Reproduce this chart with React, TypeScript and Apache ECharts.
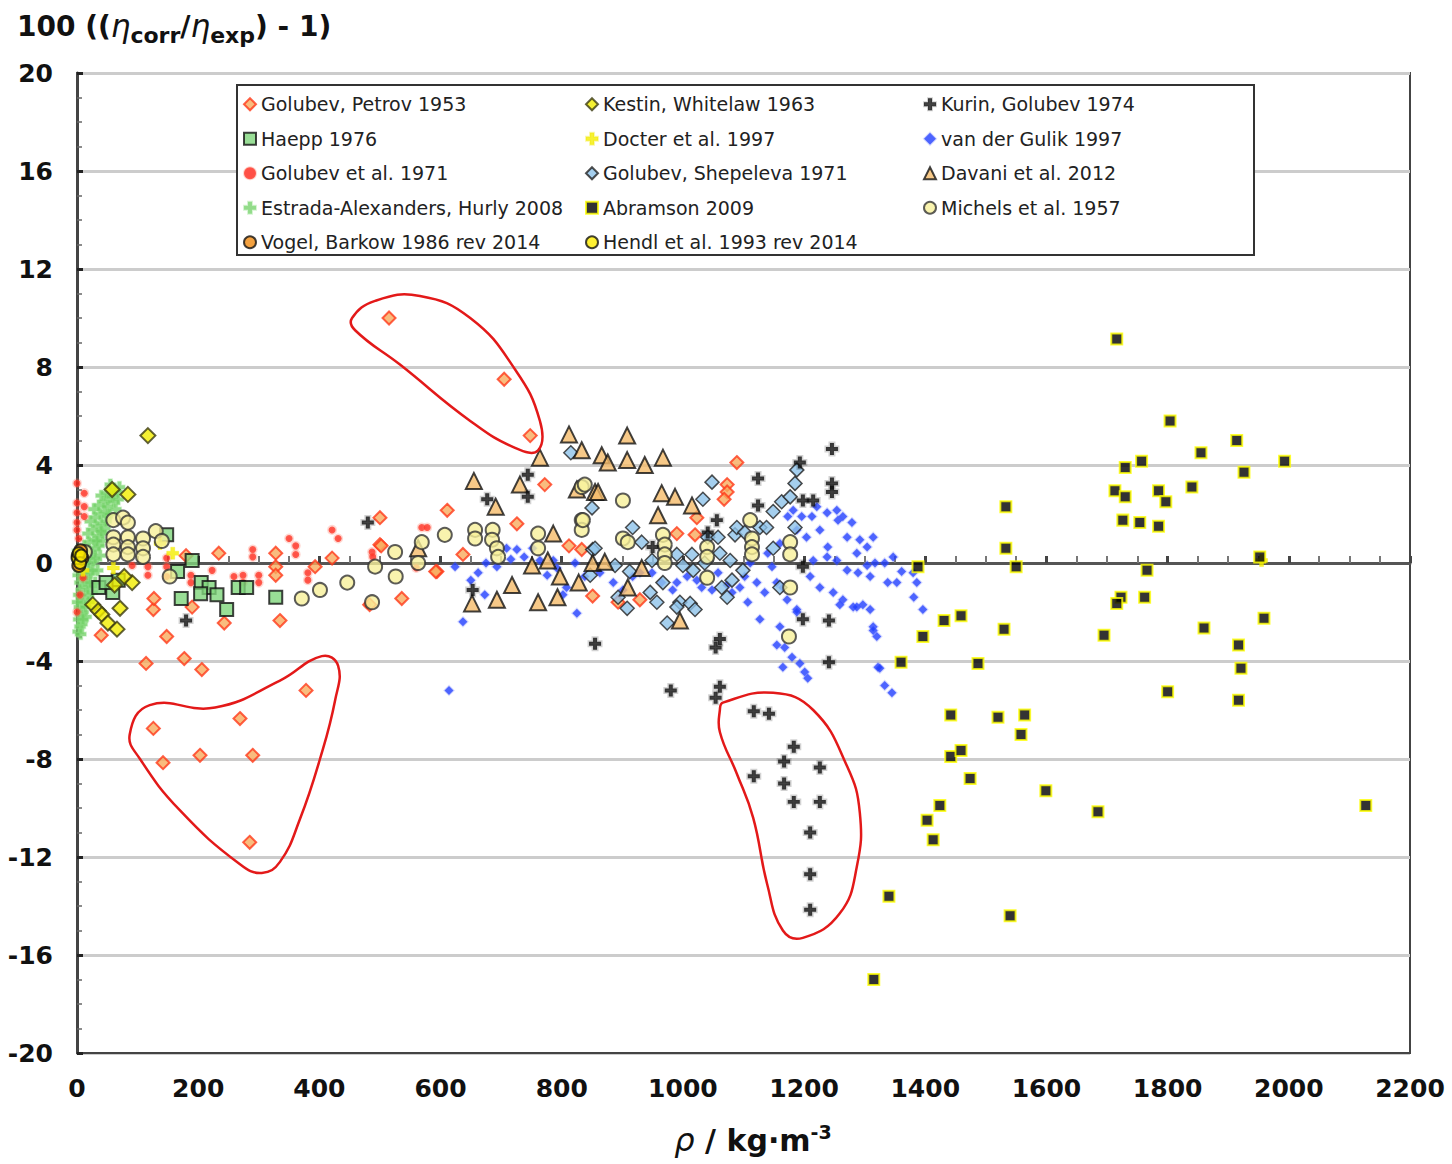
import React, { useEffect, useRef } from "react";
import * as echarts from "echarts";

const FONT = "'DejaVu Sans', 'Liberation Sans', sans-serif";
const PLUS = "path://M3,0H6V3H9V6H6V9H3V6H0V3H3Z";

// ---- data: [density kg/m3, 100((eta_corr/eta_exp)-1)] ----
const GOLUBEV_PETROV_1953 = [
  [515, 10.0], [705, 7.5], [748, 5.2], [126, -6.75], [142, -8.15], [203, -7.85], [269, -6.35], [290, -7.85],
  [378, -5.2], [285, -11.4], [114, -4.1], [177, -3.9], [206, -4.35], [148, -3.0], [40, -2.95], [243, -2.45],
  [335, -2.35], [190, -1.8], [126, -1.9], [127, -1.45], [536, -1.45], [483, -1.7], [594, -0.35], [234, 0.4],
  [328, 0.4], [328, -0.15], [328, -0.5], [421, 0.2], [500, 0.75], [393, -0.15], [180, 0.3], [772, 3.2],
  [611, 2.15], [500, 1.85], [726, 1.6], [502, 0.7], [592, -0.35], [637, 0.35], [812, 0.7], [833, 0.55],
  [1089, 4.1], [1073, 3.2], [1073, 2.9], [1068, 2.6], [1023, 1.85], [1020, 1.15], [990, 1.2], [929, -1.5],
  [893, -1.6], [851, -1.35],
];
const HAEPP_1976 = [
  [148, 1.15], [190, 0.1], [68, -0.7], [36, -1.0], [59, -1.2], [48, -0.8], [166, -0.35], [172, -1.45],
  [205, -0.8], [218, -1.0], [231, -1.3], [204, -1.25], [247, -1.9], [266, -1.0], [280, -1.0], [328, -1.4],
];
const GOLUBEV_1971 = [
  [0, 3.25], [12, 2.85], [0, 2.45], [12, 2.3], [0, 2.05], [12, 1.9], [0, 1.65], [0, 1.35], [3, 1.0],
  [91, -0.1], [117, -0.15], [117, -0.5], [148, 0.2], [148, -0.15], [148, -0.55], [188, -0.5], [188, -0.8],
  [223, -0.3], [259, -0.55], [274, -0.5], [274, -0.8], [300, -0.5], [300, -0.8], [290, 0.55], [290, 0.25],
  [350, 1.0], [361, 0.7], [361, 0.35], [381, -0.4], [381, -0.7], [431, 1.0], [421, 1.35], [569, 1.45],
  [578, 1.45], [487, 0.45], [488, 0.25], [480, -1.7], [560, -0.2], [10, -0.6], [5, -1.3], [0, -2.0],
];
const ESTRADA_HURLY_2008 = [
  [2, -2.8], [5, -2.6], [8, -2.5], [3, -2.3], [6, -2.1], [10, -2.0], [4, -1.8], [8, -1.6], [12, -1.5],
  [3, -1.3], [7, -1.1], [14, -1.0], [18, -0.9], [5, -0.8], [10, -0.6], [16, -0.5], [22, -0.4], [4, -0.3],
  [12, -0.1], [20, 0.0], [27, 0.1], [8, 0.2], [16, 0.35], [24, 0.45], [30, 0.6], [12, 0.7], [20, 0.85],
  [28, 0.95], [35, 1.1], [18, 1.2], [26, 1.35], [33, 1.5], [40, 1.6], [22, 1.7], [30, 1.85], [38, 2.0],
  [45, 2.1], [28, 2.2], [36, 2.35], [44, 2.5], [52, 2.6], [40, 2.75], [48, 2.85], [56, 2.95], [62, 3.0],
  [50, 2.3], [58, 2.7], [66, 2.9], [15, -2.2], [20, -1.6], [25, -1.2], [30, -0.8], [34, -0.3], [38, 0.3],
  [42, 0.9], [46, 1.4], [50, 1.9], [2, -0.5], [1, 0.5], [1, -1.6], [55, 3.2], [60, 2.5], [64, 2.2],
  [68, 2.6], [70, 3.1], [48, 1.7], [54, 2.0], [42, 1.2], [36, 0.7], [30, 0.2], [26, -0.3], [22, -0.8],
  [18, -1.3], [14, -1.8], [10, -2.3], [6, -2.9], [33, 0.9], [40, 1.3],
];
const VOGEL_BARKOW_1986 = [[2, 0.3], [4, 0.1], [6, 0.5], [3, -0.1], [8, 0.2]];
const KESTIN_WHITELAW_1963 = [
  [117, 5.2], [58, 3.0], [84, 2.8], [26, -1.7], [35, -1.95], [41, -2.1], [51, -2.45], [66, -2.7],
  [71, -1.85], [91, -0.8], [78, -0.55], [62, -0.9],
];
const DOCTER_1997 = [[137, 0.8], [158, 0.4], [10, -0.3], [1955, 0.1], [60, -0.2]];
const GOLUBEV_SHEPELEVA_1971 = [
  [815, 4.5], [850, 2.25], [851, 0.55], [847, -0.5], [855, 0.6], [917, 1.45], [932, 0.85], [888, -0.1],
  [912, -0.35], [893, -1.4], [908, -1.85], [946, -1.2], [957, -1.6], [967, -0.8], [949, 0.1], [990, 0.35],
  [1000, -0.1], [1015, 0.35], [1017, -0.3], [1036, 0.0], [1041, 1.05], [1058, 1.05], [1061, 0.4], [1078, 0.1],
  [1086, 1.15], [1089, 1.45], [1102, 1.25], [1099, -0.3], [1064, -1.0], [1081, -0.7], [1073, -1.4], [995, -1.6],
  [990, -1.8], [974, -2.45], [1012, -1.65], [1020, -1.9], [1048, 3.3], [1033, 2.6], [1127, 1.45], [1138, 1.45],
  [1149, 0.6], [1160, -1.0], [1185, 1.45], [1149, 2.1], [1163, 2.5], [1177, 2.7], [1185, 3.25], [1188, 3.8],
];
const ABRAMSON_2009 = [
  [1716, 9.14], [1804, 5.8], [1914, 5.0], [1855, 4.5], [1757, 4.15], [1993, 4.15], [1730, 3.9], [1926, 3.7],
  [1840, 3.1], [1713, 2.95], [1785, 2.95], [1730, 2.7], [1797, 2.5], [1726, 1.75], [1754, 1.65], [1785, 1.5],
  [1952, 0.25], [1766, -0.3], [1723, -1.4], [1716, -1.65], [1762, -1.4], [1695, -2.95], [1860, -2.65],
  [1959, -2.25], [1917, -3.35], [1921, -4.3], [1800, -5.25], [1917, -5.6], [2127, -9.9], [1685, -10.15],
  [1599, -9.3], [1540, -14.4], [1340, -13.6], [1315, -17.0], [1533, 2.3], [1533, 0.6], [1550, -0.15],
  [1388, -0.15], [1396, -3.0], [1431, -2.35], [1459, -2.15], [1530, -2.7], [1360, -4.05], [1487, -4.1],
  [1442, -6.2], [1520, -6.3], [1564, -6.2], [1558, -7.0], [1442, -7.9], [1459, -7.65], [1474, -8.8],
  [1424, -9.9], [1403, -10.5], [1413, -11.3],
];
const HENDL_1993 = [[1, 0.2], [3, 0.4], [5, 0.0], [7, 0.3]];
const KURIN_GOLUBEV_1974 = [
  [180, -2.35], [480, 1.65], [677, 2.6], [744, 3.6], [744, 2.7], [653, -1.1], [855, -3.3], [950, 0.65],
  [980, -5.2], [1041, 1.25], [1056, 1.75], [1061, -3.1], [1054, -3.45], [1061, -5.05], [1054, -5.5],
  [1117, -6.05], [1142, -6.15], [1124, 3.45], [1124, 2.35], [1193, 4.1], [1198, 2.55], [1215, 2.55],
  [1246, 4.65], [1246, 3.25], [1246, 2.9], [1198, -0.15], [1198, -2.3], [1241, -2.35], [1241, -4.05],
  [1183, -7.5], [1167, -8.1], [1226, -8.35], [1117, -8.7], [1167, -9.0], [1183, -9.75], [1226, -9.75],
  [1210, -11.0], [1210, -12.7], [1210, -14.15],
];
const VAN_DER_GULIK_1997 = [
  [614, -5.2], [624, -0.15], [637, -2.4], [650, -0.7], [662, -0.4], [673, -1.3], [675, 0.0], [693, -0.15],
  [709, 0.6], [716, 0.15], [726, 0.55], [738, 0.25], [752, 0.6], [764, 0.1], [776, -0.5], [786, 0.1],
  [792, -0.2], [808, -1.0], [822, 0.0], [825, -2.05], [838, -0.55], [802, -1.3], [863, -0.4], [885, -0.8],
  [901, -1.1], [917, -0.55], [929, -0.4], [949, -0.4], [965, -0.8], [983, -1.1], [990, -0.8], [1007, -0.55],
  [1023, -0.7], [1031, -1.0], [1048, -1.1], [1058, -0.4], [1073, -0.9], [1081, -1.2], [1094, -1.0],
  [1102, -0.55], [1107, -1.6], [1111, 0.0], [1122, -0.8], [1127, -2.3], [1135, -1.2], [1140, 0.4],
  [1147, -0.15], [1155, -0.8], [1160, 0.8], [1173, 1.9], [1182, 2.15], [1188, 1.35], [1196, 1.9],
  [1204, 1.05], [1213, 1.9], [1221, 2.3], [1226, 1.35], [1238, 2.05], [1239, 0.65], [1254, 2.15],
  [1256, 1.75], [1264, 1.9], [1271, 1.05], [1279, 1.65], [1287, 0.4], [1292, 0.95], [1304, 0.65],
  [1314, 1.05], [1317, 0.0], [1309, -0.55], [1289, -0.4], [1271, -0.3], [1254, 0.1], [1238, 0.25],
  [1215, 0.1], [1210, -0.55], [1226, -1.0], [1248, -1.2], [1264, -1.5], [1281, -1.8], [1297, -1.7],
  [1309, -1.9], [1314, -2.6], [1320, -3.0], [1165, -1.0], [1172, -1.5], [1188, -1.9], [1160, -2.6],
  [1168, -3.45], [1188, -2.0], [1180, -3.85], [1193, -4.1], [1201, -4.45], [1206, -4.7], [1165, -4.25],
  [1259, -1.7], [1287, -1.8], [1314, -2.75], [1322, -4.25], [1347, 0.25], [1361, -0.35], [1380, -0.4],
  [1386, -0.8], [1353, -0.8], [1338, -0.8], [1333, 0.0], [1304, -0.1], [1381, -1.4], [1396, -1.9],
  [1325, -4.3], [1333, -5.0], [1345, -5.3], [1155, -3.35],
];
const DAVANI_2012 = [
  [812, 5.25], [833, 4.6], [764, 4.3], [655, 3.35], [731, 3.2], [691, 2.3], [825, 3.0], [855, 2.9],
  [786, 1.2], [563, 0.6], [751, -0.1], [777, 0.1], [797, -0.55], [718, -0.9], [652, -1.65], [693, -1.5],
  [761, -1.6], [793, -1.4], [828, -0.8], [851, 0.0], [908, 5.2], [866, 4.4], [876, 4.1], [908, 4.2],
  [937, 4.0], [967, 4.3], [860, 2.9], [965, 2.85], [987, 2.7], [1015, 2.35], [959, 1.95], [871, 0.05],
  [932, -0.2], [909, -1.0], [995, -2.35],
];
const MICHELS_1957 = [
  [60, 1.75], [76, 1.85], [84, 1.65], [60, 1.05], [60, 0.75], [60, 0.35], [84, 1.05], [84, 0.65], [84, 0.35],
  [109, 1.0], [109, 0.6], [109, 0.25], [153, -0.55], [13, 0.45], [371, -1.45], [401, -1.1], [446, -0.8],
  [487, -1.6], [492, -0.15], [526, -0.55], [525, 0.45], [563, 0.0], [569, 0.85], [607, 1.15], [657, 1.35],
  [657, 1.0], [686, 1.35], [685, 0.95], [693, 0.6], [695, 0.25], [761, 1.2], [761, 0.6], [833, 3.1],
  [833, 1.75], [833, 1.35], [838, 3.2], [901, 2.55], [835, 1.75], [901, 1.0], [909, 0.85], [967, 1.15],
  [970, 0.75], [970, 0.35], [970, 0.0], [1040, 0.65], [1040, 0.25], [1040, -0.6], [1111, 1.75], [1114, 1.0],
  [1114, 0.65], [1114, 0.35], [1177, 0.85], [1177, 0.35], [1177, -1.0], [1175, -3.0], [130, 1.3], [140, 0.9],
];

// red hand-drawn annotation loops (data coordinates)
const LOOP_TOP = [[454, 10.0], [492, 10.7], [566, 10.9], [649, 10.0], [723, 7.9], [764, 5.8], [761, 4.6], [723, 4.7], [649, 5.8], [533, 8.1], [459, 9.5]];
const LOOP_LEFT = [[87, -7.0], [120, -5.8], [228, -5.9], [335, -4.8], [404, -3.8], [431, -4.2], [426, -5.6], [401, -8.0], [368, -10.45], [335, -12.2], [305, -12.65], [269, -12.3], [170, -10.1], [104, -8.0]];
const LOOP_RIGHT = [[1066, -5.7], [1149, -5.3], [1215, -6.0], [1271, -8.3], [1292, -10.2], [1287, -12.4], [1259, -14.3], [1198, -15.3], [1165, -15.0], [1139, -13.1], [1116, -10.4], [1089, -8.6], [1061, -6.9], [1061, -6.0]];
const LOOPS = [LOOP_TOP, LOOP_LEFT, LOOP_RIGHT];

const LEGEND_COL1 = ["Golubev, Petrov 1953", "Haepp 1976", "Golubev et al. 1971", "Estrada-Alexanders, Hurly 2008", "Vogel, Barkow 1986 rev 2014"];
const LEGEND_COL2 = ["Kestin, Whitelaw 1963", "Docter et al. 1997", "Golubev, Shepeleva 1971", "Abramson 2009", "Hendl et al. 1993 rev 2014"];
const LEGEND_COL3 = ["Kurin, Golubev 1974", "van der Gulik 1997", "Davani et al. 2012", "Michels et al. 1957"];

function sc(name: string, data: number[][], symbol: string, size: number, itemStyle: any, extra: any = {}) {
  return { type: "scatter", name, data, symbol, symbolSize: size, itemStyle, silent: true, xAxisIndex: 0, yAxisIndex: 0, ...extra };
}

function buildOption() {
  const legendBase = {
    orient: "vertical",
    top: 93,
    itemWidth: 12,
    itemHeight: 12,
    itemGap: 12,
    padding: 0,
    selectedMode: false,
    textStyle: { fontFamily: FONT, fontSize: 19, color: "#222", lineHeight: 22.5 },
  };
  return {
    animation: false,
    backgroundColor: "#ffffff",
    grid: { left: 77, top: 73, width: 1333, height: 980, show: true, borderColor: "#444", borderWidth: 2, backgroundColor: "transparent" },
    xAxis: [
      {
        type: "value", min: 0, max: 2200, interval: 200, position: "bottom",
        axisLine: { onZero: false, lineStyle: { color: "#444", width: 2 } },
        axisTick: { show: false }, splitLine: { show: false },
        axisLabel: { fontFamily: FONT, fontWeight: "bold", fontSize: 25, color: "#111", margin: 23, formatter: (v: number) => String(v) },
      },
      {
        type: "value", min: 0, max: 2200, interval: 200, position: "top",
        axisLine: { onZero: true, lineStyle: { color: "#555", width: 3 } },
        axisTick: { show: true, inside: false, length: 7, lineStyle: { color: "#444", width: 3 } },
        minorTick: { show: true, splitNumber: 4, length: 7, lineStyle: { color: "#777", width: 2 } },
        axisLabel: { show: false }, splitLine: { show: false },
      },
    ],
    yAxis: {
      type: "value", min: -20, max: 20, interval: 4,
      axisLine: { onZero: false, lineStyle: { color: "#444", width: 3 } },
      axisTick: { inside: true, length: 6, lineStyle: { color: "#222", width: 3 } },
      minorTick: { show: true, splitNumber: 4, length: 5, lineStyle: { color: "#666", width: 1.5 } },
      splitLine: { lineStyle: { color: "#cccccc", width: 3 } },
      axisLabel: { fontFamily: FONT, fontWeight: "bold", fontSize: 25, color: "#111", margin: 24 },
    },
    legend: [
      { ...legendBase, left: 243, data: LEGEND_COL1 },
      { ...legendBase, left: 585, data: LEGEND_COL2 },
      { ...legendBase, left: 923, data: LEGEND_COL3 },
    ],
    graphic: [
      { type: "rect", z: 3, shape: { x: 237, y: 85, width: 1017, height: 170 }, style: { fill: "#ffffff", stroke: "#333", lineWidth: 2 } },
      {
        type: "text", z: 5, left: 17, top: 6,
        style: {
          text: "{n|100 ((}{i|η}{s|corr}{n|/}{i|η}{s|exp}{n|) - 1)}",
          rich: {
            n: { fontFamily: FONT, fontWeight: "bold", fontSize: 28, fill: "#111", lineHeight: 40 },
            i: { fontFamily: FONT, fontStyle: "italic", fontSize: 31, fill: "#111", lineHeight: 40 },
            s: { fontFamily: FONT, fontWeight: "bold", fontSize: 22, fill: "#111", lineHeight: 22, padding: [18, 0, 0, 0] },
          },
        },
      },
      {
        type: "text", z: 5, x: 753, y: 1140,
        style: {
          text: "{i|ρ}{n| / kg·m}{u|-3}",
          align: "center", verticalAlign: "middle",
          rich: {
            i: { fontFamily: FONT, fontStyle: "italic", fontSize: 32, fill: "#111", lineHeight: 40 },
            n: { fontFamily: FONT, fontWeight: "bold", fontSize: 30, fill: "#111", lineHeight: 40 },
            u: { fontFamily: FONT, fontWeight: "bold", fontSize: 19, fill: "#111", lineHeight: 19, padding: [0, 0, 17, 0] },
          },
        },
      },
    ],
    series: [
      sc("Estrada-Alexanders, Hurly 2008", ESTRADA_HURLY_2008, PLUS, 11, { color: "#6fcf63", opacity: 0.75, borderColor: "rgba(150,225,140,0.5)", borderWidth: 1.5 }),
      sc("Golubev et al. 1971", GOLUBEV_1971, "circle", 7, { color: "#ff2418", borderColor: "rgba(255,110,90,0.35)", borderWidth: 3 }),
      sc("Golubev, Petrov 1953", GOLUBEV_PETROV_1953, "diamond", 13, { color: "#f7ab5e", borderColor: "#ff3a1a", borderWidth: 2 }),
      sc("van der Gulik 1997", VAN_DER_GULIK_1997, "diamond", 9, { color: "#1f3dff", borderColor: "rgba(90,110,255,0.3)", borderWidth: 2 }),
      sc("Haepp 1976", HAEPP_1976, "rect", 13, { color: "#80d67c", borderColor: "#111", borderWidth: 2 }),
      sc("Kestin, Whitelaw 1963", KESTIN_WHITELAW_1963, "diamond", 15, { color: "#f2ee00", borderColor: "#3a3a10", borderWidth: 2 }),
      sc("Docter et al. 1997", DOCTER_1997, PLUS, 12, { color: "#f4ee00", borderColor: "rgba(240,230,0,0.4)", borderWidth: 1 }),
      sc("Golubev, Shepeleva 1971", GOLUBEV_SHEPELEVA_1971, "diamond", 14, { color: "#8fc3ea", borderColor: "#222", borderWidth: 1.5 }),
      sc("Davani et al. 2012", DAVANI_2012, "triangle", 16, { color: "#f5bb6a", borderColor: "#111", borderWidth: 2 }),
      sc("Michels et al. 1957", MICHELS_1957, "circle", 14, { color: "#f7f09a", borderColor: "#333", borderWidth: 2 }),
      sc("Kurin, Golubev 1974", KURIN_GOLUBEV_1974, PLUS, 12, { color: "#111", borderColor: "rgba(0,0,0,0.22)", borderWidth: 3 }),
      sc("Abramson 2009", ABRAMSON_2009, "rect", 11, { color: "#000", borderColor: "#ffff00", borderWidth: 2 }),
      sc("Vogel, Barkow 1986 rev 2014", VOGEL_BARKOW_1986, "circle", 13, { color: "#f08a10", borderColor: "#111", borderWidth: 2 }),
      sc("Hendl et al. 1993 rev 2014", HENDL_1993, "circle", 12, { color: "#ffee00", borderColor: "#111", borderWidth: 2 }),
      {
        type: "custom", name: "annotations", silent: true, z: 10, clip: false, xAxisIndex: 0, yAxisIndex: 0,
        data: LOOPS.map((l, i) => [l[0][0], l[0][1], i]),
        renderItem: (_params: any, api: any) => {
          const loop = LOOPS[api.value(2)];
          const pts = loop.map((p) => api.coord(p));
          return { type: "polygon", shape: { points: pts, smooth: 0.45 }, style: { fill: "none", stroke: "#e31919", lineWidth: 2.5 } };
        },
      },
    ],
  };
}

export default function App() {
  const ref = useRef<HTMLDivElement>(null);
  useEffect(() => {
    const chart = echarts.init(ref.current!, undefined, { renderer: "svg" });
    chart.setOption(buildOption() as any);
    return () => chart.dispose();
  }, []);
  return <div ref={ref} style={{ position: "fixed", left: 0, top: 0, width: 1452, height: 1164, background: "#fff" }} />;
}
